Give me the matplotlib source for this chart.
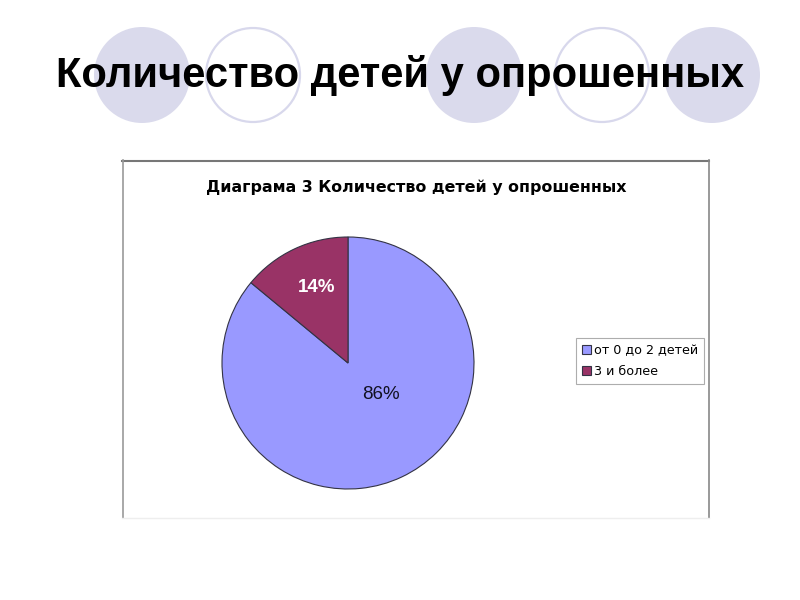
import matplotlib
matplotlib.use('Agg')
import matplotlib.pyplot as plt
from matplotlib.patches import Circle, Rectangle

# Данные диаграммы
categories = ['от 0 до 2 детей', '3 и более']
shares = [86, 14]
colors = ['#9999FF', '#993366']

slide_title = 'Количество детей у опрошенных'
chart_title = 'Диаграма 3 Количество детей у опрошенных'


def plot():
    fig = plt.figure(figsize=(8, 6), dpi=100)
    fig.patch.set_facecolor('white')

    # фон слайда в пикселях
    bg = fig.add_axes([0, 0, 1, 1])
    bg.set_xlim(0, 800)
    bg.set_ylim(600, 0)
    bg.axis('off')

    # декоративные круги за заголовком
    for cx, filled in [(142, True), (253, False), (474, True), (602, False), (712, True)]:
        if filled:
            bg.add_patch(Circle((cx, 75), 48, facecolor='#DADAEC', edgecolor='none'))
        else:
            bg.add_patch(Circle((cx, 75), 47, facecolor='white', edgecolor='#D8D8EC', linewidth=1.6))

    bg.text(400, 87, slide_title, ha='center', va='baseline', fontsize=30.1,
            fontweight='bold', family='Liberation Sans', color='black')

    # рамка диаграммы
    bg.add_patch(Rectangle((122, 160), 587, 358, facecolor='white', edgecolor='none'))
    bg.plot([122, 709], [160.5, 160.5], color='#777777', lw=1.5)
    bg.plot([122.5, 122.5], [160, 518], color='#999999', lw=1.2)
    bg.plot([708.5, 708.5], [160, 518], color='#888888', lw=1.2)
    bg.plot([122, 709], [517.5, 517.5], color='#EEEEEE', lw=1)

    bg.text(416, 187, chart_title, ha='center', va='center', fontsize=11.4,
            fontweight='bold', family='DejaVu Sans', color='black')

    # круговая диаграмма
    r = 126
    ax = fig.add_axes([(348 - r) / 800, (600 - 363 - r) / 600, 2 * r / 800, 2 * r / 600])
    wedges, texts, autotexts = ax.pie(
        shares, colors=colors, startangle=90, counterclock=False,
        autopct='%d%%', pctdistance=0.65,
        wedgeprops=dict(edgecolor='#333344', linewidth=0.8),
        textprops=dict(family='Liberation Sans', fontsize=13.5))
    ax.set_xlim(-1, 1)
    ax.set_ylim(-1, 1)
    ax.set_aspect('auto')
    for w in wedges:
        w.set_clip_on(False)

    autotexts[0].set_position((0.26, -0.25))
    autotexts[0].set_color('#111122')
    autotexts[1].set_position((-0.25, 0.6))
    autotexts[1].set_color('white')
    autotexts[1].set_fontweight('bold')

    leg = ax.legend(wedges, categories, loc='upper left',
                    bbox_to_anchor=(576 / 800, 1 - 338 / 600), bbox_transform=fig.transFigure,
                    borderaxespad=0, frameon=True, fancybox=False, shadow=False,
                    handlelength=0.7, handleheight=0.7, handletextpad=0.2,
                    borderpad=0.5, labelspacing=0.6,
                    prop=dict(family='DejaVu Sans', size=9.2))
    leg.get_frame().set_edgecolor('#999999')
    leg.get_frame().set_linewidth(0.8)

    fig.savefig('out.png', dpi=100, facecolor='white')


if __name__ == '__main__':
    plot()
